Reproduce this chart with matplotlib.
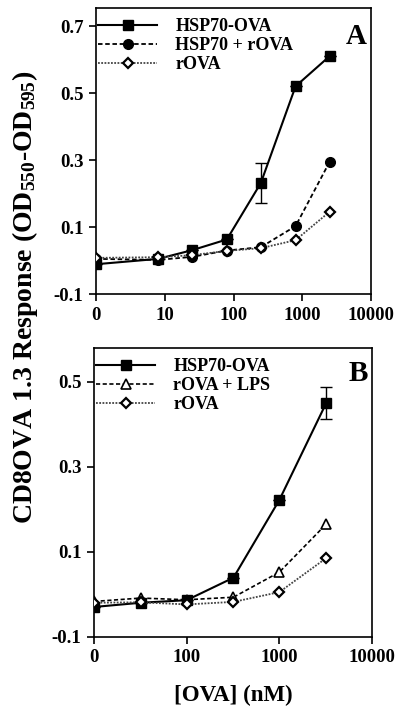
import matplotlib
matplotlib.use("Agg")
import matplotlib.pyplot as plt
from matplotlib.lines import Line2D

plt.rcParams['font.family'] = ['Liberation Serif', 'DejaVu Serif']
plt.rcParams['font.weight'] = 'bold'
plt.rcParams['mathtext.fontset'] = 'custom'
plt.rcParams['mathtext.rm'] = 'Liberation Serif:bold'
plt.rcParams['mathtext.it'] = 'Liberation Serif:bold'
plt.rcParams['mathtext.bf'] = 'Liberation Serif:bold'

# Panel A data ("0" plotted at 1)
conc_a = [1, 8, 25, 80, 250, 800, 2500]
hsp_ova_a = [-0.011, 0.005, 0.031, 0.063, 0.232, 0.521, 0.611]
hsp_ova_a_err = [0, 0, 0, 0, 0.06, 0, 0]
hsp_rova_a = [0.005, 0.002, 0.011, 0.030, 0.040, 0.103, 0.295]
rova_a = [0.008, 0.010, 0.016, 0.029, 0.037, 0.061, 0.146]
xticks_a = [1, 10, 100, 1000, 10000]
xticklabels_a = ['0', '10', '100', '1000', '10000']
yticks_a = [-0.1, 0.1, 0.3, 0.5, 0.7]

# Panel B data ("0" plotted at 10)
conc_b = [10, 32, 100, 320, 1000, 3200]
hsp_ova_b = [-0.030, -0.020, -0.014, 0.039, 0.222, 0.450]
hsp_ova_b_err = [0, 0, 0, 0, 0, 0.038]
rova_lps_b = [-0.017, -0.009, -0.013, -0.007, 0.052, 0.165]
rova_b = [-0.020, -0.019, -0.024, -0.018, 0.005, 0.085]
xticks_b = [10, 100, 1000, 10000]
xticklabels_b = ['0', '100', '1000', '10000']
yticks_b = [-0.1, 0.1, 0.3, 0.5]

fig = plt.figure(figsize=(3.97, 7.11), dpi=100)
axA = fig.add_axes([96/397, 1-294/711, (371-96)/397, (294-8)/711])
axB = fig.add_axes([94/397, 1-636.7/711, (372-94)/397, (636.7-348)/711])

ms = 7
solid = dict(color='black', lw=1.5, marker='s', ms=ms, mfc='black', mec='black')
dashed_c = dict(color='black', lw=1.3, ls=(0, (2.5, 1.5)), marker='o', ms=ms,
                mfc='black', mec='black')
dashed_t = dict(color='black', lw=1.2, ls=(0, (2.5, 1.5)), marker='^', ms=6.5,
                mfc='white', mec='black', mew=1.2)
dotted_d = dict(color='#444444', lw=1.3, ls=(0, (1, 0.8)), marker='D', ms=5.5,
                mfc='white', mec='black', mew=1.6)

def style(ax, xlim, ylim, xt, xtl, yt):
    ax.set_xscale('log')
    ax.set_xlim(*xlim)
    ax.set_ylim(*ylim)
    ax.set_xticks(xt)
    ax.set_xticklabels(xtl)
    ax.xaxis.set_minor_locator(matplotlib.ticker.NullLocator())
    ax.set_yticks(yt)
    ax.set_yticklabels([f'{v:.1f}' for v in yt])
    ax.tick_params(direction='out', length=5, width=1.2, labelsize=13.5, pad=4)
    for s in ax.spines.values():
        s.set_linewidth(1.2)
    for lab in ax.get_xticklabels() + ax.get_yticklabels():
        lab.set_fontweight('bold')

def legend(ax, entries):
    handles = [Line2D([], [], **kw) for kw, _ in entries]
    labels = [lab for _, lab in entries]
    leg = ax.legend(handles, labels, loc='upper left', bbox_to_anchor=(0.0, 0.97),
                    frameon=False, fontsize=13, handlelength=3.3, handletextpad=1.0,
                    labelspacing=0.1, borderaxespad=0.0, borderpad=0.1)
    for t in leg.get_texts():
        t.set_fontweight('bold')

# Panel A
axA.errorbar(conc_a, hsp_ova_a, yerr=hsp_ova_a_err, capsize=4, elinewidth=1.0,
             capthick=1.0, zorder=3, **solid)
axA.plot(conc_a, hsp_rova_a, zorder=2, **dashed_c)
axA.plot(conc_a, rova_a, zorder=4, **dotted_d)
style(axA, (1, 10000), (-0.1, 0.755), xticks_a, xticklabels_a, yticks_a)
axA.text(0.985, 0.948, 'A', transform=axA.transAxes, ha='right', va='top',
         fontsize=21, fontweight='bold')
legend(axA, [(solid, 'HSP70-OVA'), (dashed_c, 'HSP70 + rOVA'), (dotted_d, 'rOVA')])

# Panel B
axB.errorbar(conc_b, hsp_ova_b, yerr=hsp_ova_b_err, capsize=4, elinewidth=1.0,
             capthick=1.0, zorder=3, **solid)
axB.plot(conc_b, rova_lps_b, zorder=2, **dashed_t)
axB.plot(conc_b, rova_b, zorder=4, **dotted_d)
style(axB, (10, 10000), (-0.1, 0.58), xticks_b, xticklabels_b, yticks_b)
axB.text(0.985, 0.958, 'B', transform=axB.transAxes, ha='right', va='top',
         fontsize=21, fontweight='bold')
legend(axB, [(solid, 'HSP70-OVA'), (dashed_t, 'rOVA + LPS'), (dotted_d, 'rOVA')])

fig.text(0.062, 0.582, r'CD8OVA 1.3 Response (OD$_{550}$-OD$_{595}$)', rotation=90,
         ha='center', va='center', fontsize=20, fontweight='bold')
fig.text(233/397, 1-695/711, '[OVA] (nM)', ha='center', va='center',
         fontsize=16.5, fontweight='bold')

fig.savefig('out.png', dpi=100)
